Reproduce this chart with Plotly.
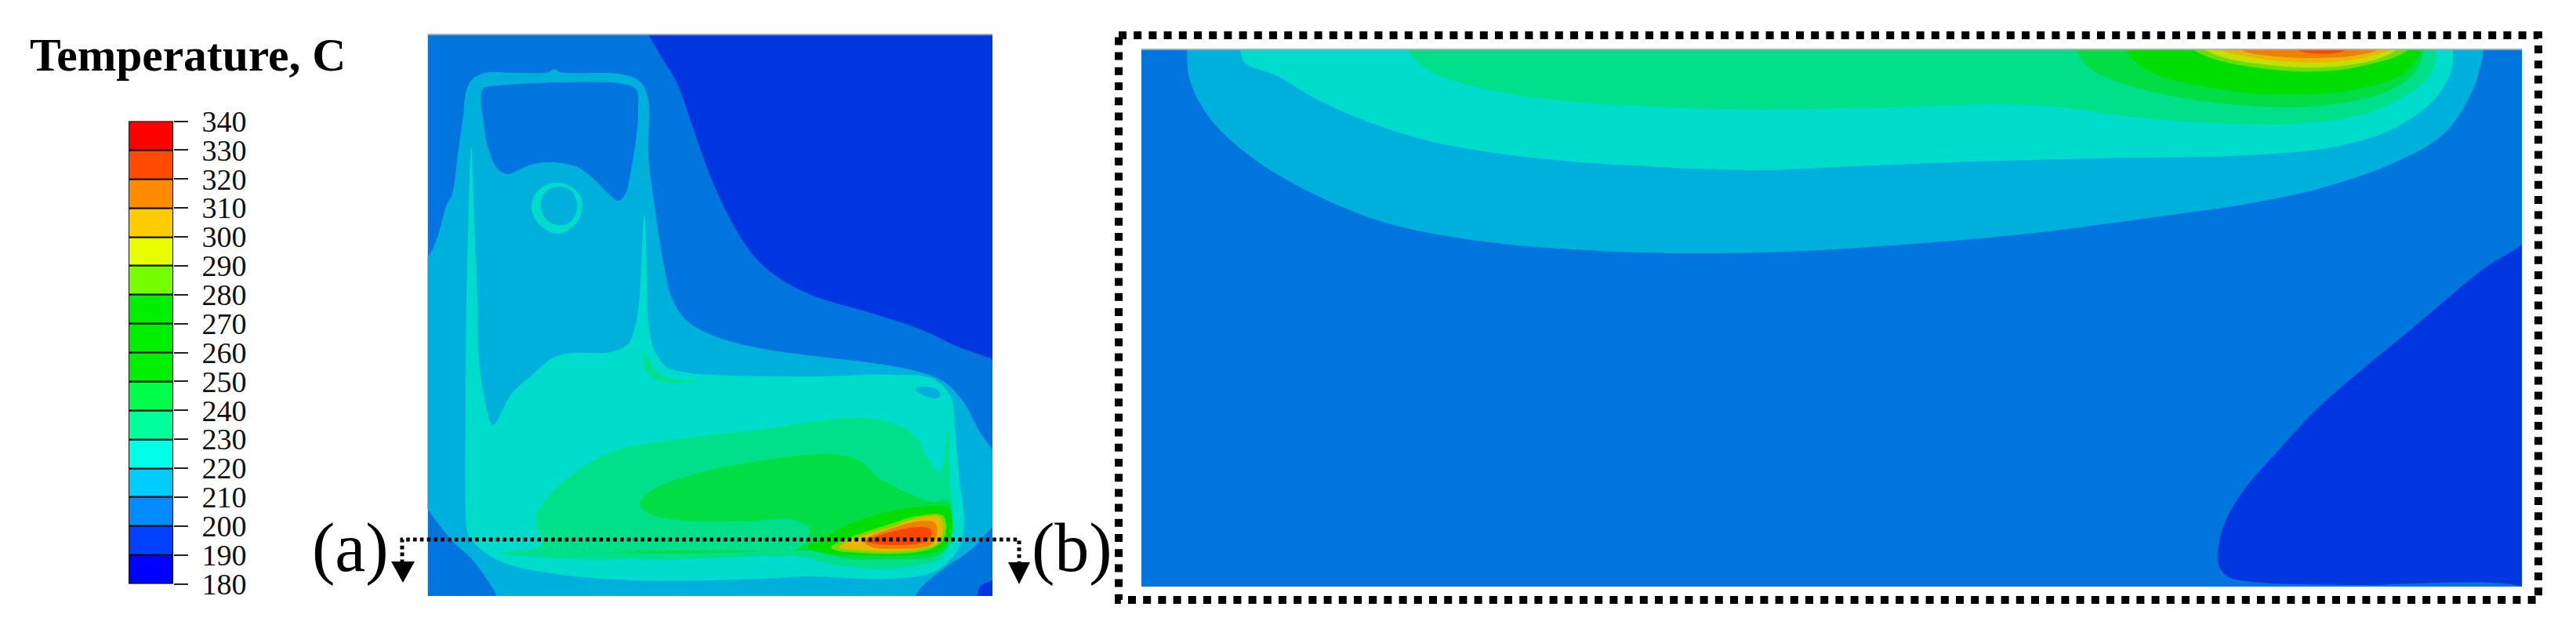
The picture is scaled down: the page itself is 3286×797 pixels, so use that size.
import plotly.graph_objects as go

W, H = 3286, 797
SERIF = "Liberation Serif"

# ---------- colour key ----------
KEY_TICKS = [180, 190, 200, 210, 220, 230, 240, 250, 260, 270, 280, 290, 300, 310, 320, 330, 340]
KEY_COLORS = ["#0000FF", "#0040FF", "#008CFF", "#00CCFF", "#00FFE8", "#00FF9C", "#00FF4A", "#00F000",
              "#00F000", "#00F000", "#75FF00", "#E8FF00", "#FFCC00", "#FF8C00", "#FF4A00", "#FF0000"]

C180, C190, C200, C210, C220, C230, C240, C250 = "#0000D8", "#0036DF", "#0075DD", "#00B0DC", "#00DCCC", "#00E08A", "#00DD45", "#00DD00"
C280, C290, C300, C310, C320 = "#70DD00", "#C8DD00", "#E8B800", "#F08000", "#F84800"

# ---------- section view, isotherm outlines ----------
A_XR, A_YR = [545.5, 1266], [760, 44]

A180_X = [1198, 1227, 1252, 1266, 1285, 1285, 1190]
A180_Y = [44, 70, 97, 113, 130, 30, 30]
A190_X = [827, 844, 864, 884, 903, 923, 943, 962, 987, 1021, 1045, 1107, 1174, 1224, 1265, 1285, 1285, 820]
A190_Y = [44, 73, 107, 163, 217, 263, 300, 327, 350, 370, 380, 398, 420, 443, 458, 470, 30, 30]
A190B_X = [1246, 1251, 1266, 1285, 1285, 1240]
A190B_Y = [760, 747, 740, 730, 775, 775]
A210_X = [535, 546, 559, 569, 577, 584, 591, 594, 601, 618, 660, 700, 707, 714, 795, 817, 827, 827, 835, 849, 857, 874, 907, 963,
          1029, 1113, 1168, 1204, 1229, 1251, 1265, 1292, 1292, 1265, 1240, 1201, 1174, 1168, 1160, 630, 633, 624, 602, 577, 546, 530, 530]
A210_Y = [335, 327, 300, 263, 247, 197, 147, 120, 103, 93, 93, 92, 88, 92, 95, 105, 127, 197, 263, 350, 380, 407, 427, 443,
          453, 463, 473, 487, 513, 553, 572, 610, 650, 673, 700, 727, 750, 760, 780, 780, 760, 743, 713, 690, 650, 625, 340]
A200W_X = [616, 626, 795, 812, 814, 812, 805, 798, 789, 776, 756, 736, 707, 677, 648, 636, 623, 616, 613.5]
A200W_Y = [113, 110, 107, 115, 140, 173, 217, 247, 256, 247, 227, 213, 207, 210, 222, 217, 190, 150, 127]
A220_X = [601, 597, 595, 594, 594, 597, 613, 641, 696, 807, 974, 1029, 1140, 1196, 1224, 1230, 1224, 1218, 1213, 1190, 1140, 1029,
          874, 849, 835, 827, 826, 822, 815, 810, 802, 780, 735, 708, 680, 652, 629, 619, 610, 609, 605]
A220_Y = [187, 300, 390, 513, 647, 680, 700, 717, 730, 740, 738, 735, 738, 727, 697, 667, 613, 547, 507, 483, 478, 480,
          475, 467, 447, 413, 390, 273, 390, 417, 438, 449, 450, 455, 477, 503, 542, 513, 447, 380, 290]
A_RING_OUT_X = [710, 728, 741, 742, 732, 712, 695, 682, 678, 684, 695]
A_RING_OUT_Y = [233, 238, 252, 270, 288, 298, 292, 278, 262, 246, 237]
A_RING_IN_X = [713, 728, 736, 734, 725, 710, 697, 690, 692, 701]
A_RING_IN_Y = [238, 243, 258, 274, 285, 287, 280, 265, 250, 241]
A_BLOB_X = [1168, 1180, 1196, 1199, 1192, 1180, 1171]
A_BLOB_Y = [495, 493, 497, 505, 508, 505, 500]
A230_X = [1102, 1140, 1168, 1185, 1199, 1206, 1210, 1211, 1215, 1214, 1201, 1179, 1113, 1063, 1018, 863, 713, 641, 691, 683, 696, 741, 791, 863, 974, 1057]
A230_Y = [533, 540, 557, 587, 603, 567, 543, 597, 647, 680, 710, 720, 725, 720, 710, 713, 712, 705, 695, 663, 637, 597, 573, 560, 547, 535]
A230S_X = [821, 823, 833, 850, 895, 855, 838, 828]
A230S_Y = [448, 470, 482, 488, 486, 483, 475, 460]
A240_X = [1057, 1096, 1118, 1146, 1190, 1210, 1214, 1210, 1190, 1140, 1085, 1032, 1013, 1029, 1032, 1013, 946, 863, 824, 816, 832, 891, 974, 1029]
A240_Y = [579, 587, 607, 623, 640, 638, 663, 697, 710, 713, 713, 702, 703, 690, 673, 663, 665, 663, 653, 642, 625, 603, 587, 580]
A240S_X = [774, 863, 974, 863]
A240S_Y = [704, 702, 703, 706]
A250_X = [1030, 1050, 1080, 1123, 1170, 1210, 1215, 1212, 1197, 1163, 1097, 1050]
A250_Y = [697, 687, 670, 655, 647, 648, 667, 687, 702, 708, 708, 705]
A280_X = [1060, 1090, 1130, 1170, 1202, 1207, 1202, 1187, 1147, 1097, 1067]
A280_Y = [698, 683, 670, 658, 657, 670, 690, 700, 706, 705, 702]
A300_X = [1070, 1100, 1137, 1173, 1198, 1203, 1197, 1183, 1147, 1100]
A300_Y = [698, 683, 672, 660, 659, 673, 692, 698, 703, 702]
A310_X = [1102, 1140, 1177, 1193, 1195, 1187, 1143, 1110]
A310_Y = [690, 673, 664, 667, 682, 695, 700, 697]
A320_X = [1105, 1137, 1173, 1187, 1187, 1177, 1140, 1113]
A320_Y = [690, 678, 672, 675, 685, 692, 695, 693]

# ---------- plane view, isotherm outlines ----------
B_XR, B_YR = [1456, 3217], [748, 63]

B190_X = [3240, 3217, 3168, 3111, 3067, 3011, 2954, 2904, 2866, 2841, 2831, 2830, 2841, 2872, 2992, 3217, 3240]
B190_Y = [290, 312, 343, 390, 427, 473, 523, 577, 620, 660, 690, 720, 735, 742, 746, 748, 765]
B210_X = [1513, 1514, 1518, 1545, 1600, 1667, 1764, 1885, 2006, 2158, 2300, 2489, 2614, 2740, 2866, 2960, 3055, 3118, 3155, 3168, 3168]
B210_Y = [40, 63, 103, 153, 203, 243, 283, 307, 318, 323, 320, 307, 295, 278, 260, 240, 207, 170, 113, 63, 40]
B220_X = [1581, 1582, 1588, 1630, 1673, 1739, 1824, 1945, 2097, 2248, 2300, 2489, 2677, 2866, 2979, 3055, 3105, 3127, 3129, 3129]
B220_Y = [40, 63, 80, 97, 123, 153, 180, 200, 212, 217, 215, 207, 202, 198, 187, 163, 127, 90, 63, 40]
B230_X = [1790, 1795, 1818, 1867, 1976, 2127, 2248, 2300, 2426, 2552, 2627, 2709, 2803, 2929, 3011, 3067, 3099, 3108, 3108]
B230_Y = [40, 63, 87, 107, 127, 137, 140, 139, 137, 133, 137, 148, 156, 158, 147, 123, 97, 63, 40]
B240_X = [2645, 2648, 2665, 2709, 2772, 2866, 2960, 3042, 3080, 3092, 3092]
B240_Y = [40, 63, 87, 107, 123, 135, 135, 118, 93, 63, 40]
B250_X = [2708, 2712, 2734, 2778, 2853, 2929, 3011, 3067, 3089, 3089]
B250_Y = [40, 63, 87, 103, 117, 121, 113, 93, 63, 40]
B280_X = [2790, 2798, 2827, 2870, 2930, 2987, 3030, 3057, 3072, 3080]
B280_Y = [50, 63, 76, 85, 91, 89, 80, 72, 63, 50]
B290_X = [2805, 2813, 2843, 2887, 2937, 2987, 3027, 3057, 3063]
B290_Y = [50, 63, 75, 82, 86, 84, 77, 63, 50]
B300_X = [2825, 2833, 2870, 2920, 2977, 3023, 3047, 3053]
B300_Y = [50, 63, 73, 79, 79, 72, 63, 50]
B310_X = [2850, 2860, 2903, 2953, 3003, 3033, 3040]
B310_Y = [50, 64, 72, 74, 71, 63, 50]
B320_X = [2925, 2930, 2950, 2977, 2993, 2998]
B320_Y = [50, 63, 68, 68, 63, 50]

A_LAYERS = [(A180_X, A180_Y, C180), (A190_X, A190_Y, C190), (A190B_X, A190B_Y, C190), (A210_X, A210_Y, C210),
            (A200W_X, A200W_Y, C200), (A220_X, A220_Y, C220), (A_RING_OUT_X, A_RING_OUT_Y, C220),
            (A_RING_IN_X, A_RING_IN_Y, C210), (A_BLOB_X, A_BLOB_Y, C210), (A230_X, A230_Y, C230), (A230S_X, A230S_Y, C230),
            (A240_X, A240_Y, C240), (A240S_X, A240S_Y, C240), (A250_X, A250_Y, C250), (A280_X, A280_Y, C280),
            (A300_X, A300_Y, C300), (A310_X, A310_Y, C310), (A320_X, A320_Y, C320)]
B_LAYERS = [(B190_X, B190_Y, C190), (B210_X, B210_Y, C210), (B220_X, B220_Y, C220), (B230_X, B230_Y, C230),
            (B240_X, B240_Y, C240), (B250_X, B250_Y, C250), (B280_X, B280_Y, C280), (B290_X, B290_Y, C290),
            (B300_X, B300_Y, C300), (B310_X, B310_Y, C310), (B320_X, B320_Y, C320)]

fig = go.Figure()


def region(xs, ys, color, xa, ya, shape="spline"):
    line = dict(width=0, shape=shape)
    if shape == "spline":
        line["smoothing"] = 1.0
    fig.add_trace(go.Scatter(x=list(xs) + [xs[0]], y=list(ys) + [ys[0]], mode="lines", fill="toself",
                             fillcolor=color, line=line, xaxis=xa, yaxis=ya, hoverinfo="skip"))


region([A_XR[0], A_XR[1], A_XR[1], A_XR[0]], [A_YR[0], A_YR[0], A_YR[1], A_YR[1]], C200, "x", "y", "linear")
for xs, ys, c in A_LAYERS:
    region(xs, ys, c, "x", "y")
region([B_XR[0], B_XR[1], B_XR[1], B_XR[0]], [B_YR[0], B_YR[0], B_YR[1], B_YR[1]], C200, "x2", "y2", "linear")
for xs, ys, c in B_LAYERS:
    region(xs, ys, c, "x2", "y2")

# colour key
fig.add_trace(go.Bar(x=[0] * 16, y=[10] * 16, base=KEY_TICKS[:-1], width=1,
                     marker=dict(color=KEY_COLORS, line=dict(color="#111", width=2)),
                     xaxis="x3", yaxis="y3", hoverinfo="skip"))

# overlay: panel top hairlines, cut line, arrows, frame
TOP_A_X, TOP_A_Y = [545.5, 1266], [44, 44]
TOP_B_X, TOP_B_Y = [1456, 3217], [63, 63]
FRAME_X = [1427, 3238, 3238, 1427, 1427]
FRAME_Y = [45, 45, 765, 765, 45]
CUT_X = [513, 513, 1300, 1300]
CUT_Y = [718, 688, 688, 718]
ARROW_L_X, ARROW_L_Y = [499, 529, 514], [716, 716, 743]
ARROW_R_X, ARROW_R_Y = [1286, 1314, 1300], [717, 717, 745]
for xs, ys in [(TOP_A_X, TOP_A_Y), (TOP_B_X, TOP_B_Y)]:
    fig.add_trace(go.Scatter(x=xs, y=ys, mode="lines", line=dict(color="rgba(165,170,170,0.75)", width=2.5),
                             xaxis="x4", yaxis="y4", hoverinfo="skip"))
fig.add_trace(go.Scatter(x=FRAME_X, y=FRAME_Y, mode="lines", line=dict(color="#000", width=10, dash="10px,9.2px"),
                         xaxis="x4", yaxis="y4", hoverinfo="skip"))
fig.add_trace(go.Scatter(x=CUT_X, y=CUT_Y, mode="lines", line=dict(color="#000", width=5, dash="4.6px,4.2px"),
                         xaxis="x4", yaxis="y4", hoverinfo="skip"))
for xs, ys in [(ARROW_L_X, ARROW_L_Y), (ARROW_R_X, ARROW_R_Y)]:
    fig.add_trace(go.Scatter(x=xs + xs[:1], y=ys + ys[:1], mode="lines", fill="toself", fillcolor="#000",
                             line=dict(width=0), xaxis="x4", yaxis="y4", hoverinfo="skip"))


def px_x(a, b):
    return [a / W, b / W]


def px_y(top, bot):
    return [1 - bot / H, 1 - top / H]


hidden = dict(visible=False, showgrid=False, zeroline=False)
fig.update_layout(
    width=W, height=H, margin=dict(l=0, r=0, t=0, b=0, pad=0, autoexpand=False), autosize=False,
    paper_bgcolor="white", plot_bgcolor="rgba(0,0,0,0)", showlegend=False, barmode="overlay", bargap=0,
    xaxis=dict(domain=px_x(*A_XR), range=A_XR, automargin=False, **hidden),
    yaxis=dict(domain=px_y(A_YR[1], A_YR[0]), range=A_YR, automargin=False, **hidden),
    xaxis2=dict(domain=px_x(*B_XR), range=B_XR, anchor="y2", automargin=False, **hidden),
    yaxis2=dict(domain=px_y(B_YR[1], B_YR[0]), range=B_YR, anchor="x2", automargin=False, **hidden),
    xaxis3=dict(domain=px_x(164, 221), range=[-0.5, 0.5], anchor="y3", automargin=False, **hidden),
    yaxis3=dict(domain=px_y(154.5, 744.5), range=[180, 340], anchor="x3", side="right", automargin=False,
                tickvals=KEY_TICKS, ticktext=[str(v) for v in KEY_TICKS], ticks="outside", ticklen=18, tickwidth=2,
                tickcolor="#222", showgrid=False, zeroline=False, showline=False, ticklabelstandoff=10,
                tickfont=dict(family=SERIF, size=38, color="#111")),
    xaxis4=dict(domain=[0, 1], range=[0, W], anchor="y4", automargin=False, **hidden),
    yaxis4=dict(domain=[0, 1], range=[H, 0], anchor="x4", automargin=False, **hidden),
    annotations=[
        dict(text="<b>Temperature, C</b>", x=36 / W, y=1 - 70 / H, xref="paper", yref="paper", xanchor="left", yanchor="middle",
             showarrow=False, font=dict(family=SERIF, size=59.5, color="#000")),
        dict(text="(a)", x=447 / W, y=1 - 698 / H, xref="paper", yref="paper", xanchor="center", yanchor="middle",
             showarrow=False, font=dict(family=SERIF, size=88, color="#000")),
        dict(text="(b)", x=1367 / W, y=1 - 698 / H, xref="paper", yref="paper", xanchor="center", yanchor="middle",
             showarrow=False, font=dict(family=SERIF, size=88, color="#000")),
    ],
)

fig.write_html("out.html", config=dict(displayModeBar=False),
               post_script="document.body.style.margin='0';document.body.style.overflow='hidden';")
